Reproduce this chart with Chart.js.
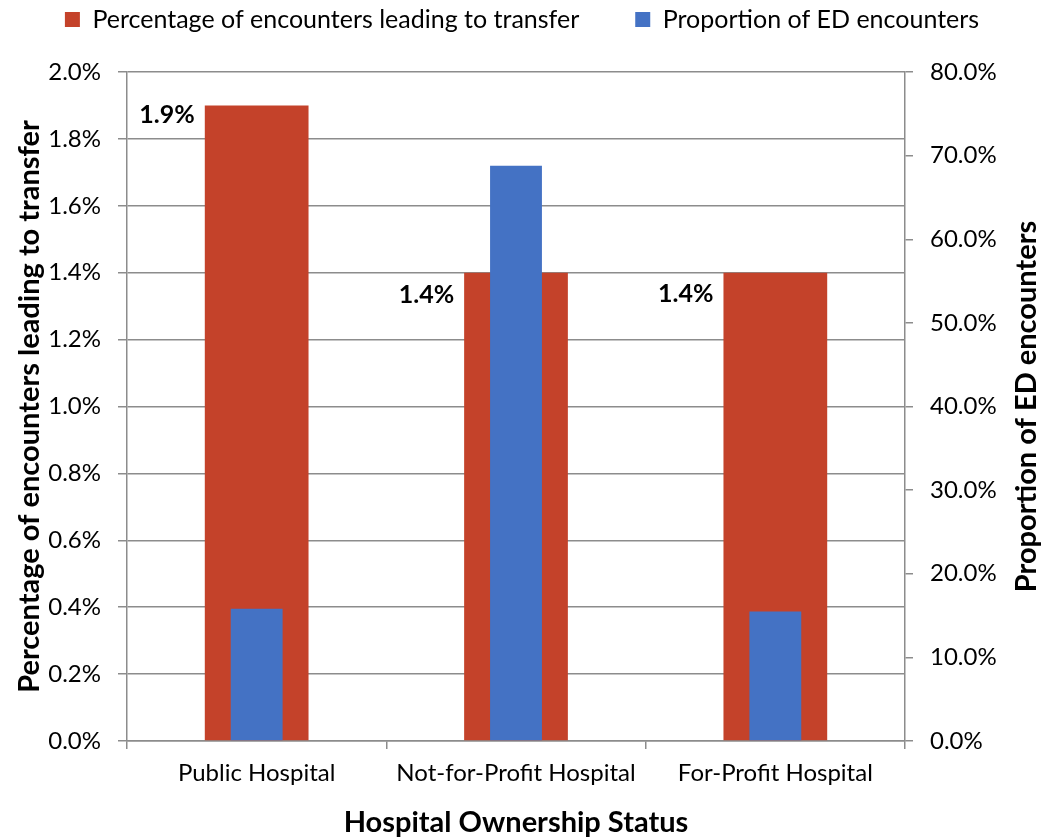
<!DOCTYPE html>
<html>
<head>
<meta charset="utf-8">
<script src="https://cdn.jsdelivr.net/npm/chart.js@4"></script>
<style>
  html, body { margin: 0; padding: 0; background: #fff; }
  #wrap { width: 1044px; height: 840px; }
</style>
</head>
<body>
<div id="wrap"><canvas id="chart" width="1044" height="840"></canvas></div>
<script>
// data
const categories = ["Public Hospital", "Not-for-Profit Hospital", "For-Profit Hospital"];
const transferPct = [1.9, 1.4, 1.4];       // % of encounters leading to transfer (left axis)
const edShare = [15.8, 68.8, 15.5];         // proportion of ED encounters, % (right axis)
const transferLabels = ["1.9%", "1.4%", "1.4%"];

// label placement below bar top (px)
const labelDrop = [9, 22, 21];

const FONT = "Lato, 'Open Sans', sans-serif";
const GRID = "#8c8c8c";
const LEGEND_GAP = 56;

// legend height fixed, value labels next to the red bars, right axis title
const extras = {
  id: "extras",
  beforeInit(chart) {
    const legend = chart.legend;
    const fit = legend.fit;
    legend.fit = function () {
      fit.call(this);
      this.height = 72;
    };
    const draw = legend.draw;
    legend.draw = function () {
      const top = this.top;
      this.top = top - LEGEND_GAP + 7;
      draw.call(this);
      this.top = top;
    };
  },
  afterDatasetsDraw(chart) {
    const ctx = chart.ctx;
    const meta = chart.getDatasetMeta(0);
    ctx.save();
    ctx.font = "bold 25px " + FONT;
    ctx.fillStyle = "#000";
    ctx.textAlign = "right";
    ctx.textBaseline = "middle";
    meta.data.forEach((bar, i) => {
      ctx.fillText(transferLabels[i], bar.x - bar.width / 2 - 10, bar.y + labelDrop[i]);
    });
    ctx.restore();
  },
  afterDraw(chart) {
    const ctx = chart.ctx;
    const area = chart.chartArea;
    ctx.save();
    ctx.translate(1027, (area.top + area.bottom) / 2);
    ctx.rotate(-Math.PI / 2);
    ctx.font = "bold 29px " + FONT;
    ctx.fillStyle = "#000";
    ctx.textAlign = "center";
    ctx.textBaseline = "middle";
    ctx.fillText("Proportion of ED encounters", 0, 0);
    ctx.restore();
  }
};

new Chart(document.getElementById("chart"), {
  type: "bar",
  data: {
    labels: categories,
    datasets: [
      {
        label: "Percentage of encounters leading to transfer",
        data: transferPct,
        backgroundColor: "#c4422a",
        borderWidth: 0,
        yAxisID: "y",
        grouped: false,
        order: 2,
        barPercentage: 0.4,
        categoryPercentage: 1
      },
      {
        label: "Proportion of ED encounters",
        data: edShare,
        backgroundColor: "#4472c4",
        borderWidth: 0,
        yAxisID: "y1",
        grouped: false,
        order: 1,
        barPercentage: 0.2,
        categoryPercentage: 1
      }
    ]
  },
  options: {
    responsive: false,
    animation: false,
    devicePixelRatio: 1,
    layout: { padding: 0 },
    plugins: {
      tooltip: { enabled: false },
      legend: {
        position: "top",
        labels: {
          font: { family: FONT, size: 25 },
          color: "#000",
          boxWidth: 15,
          boxHeight: 15,
          padding: LEGEND_GAP,
          sort: (a, b) => a.datasetIndex - b.datasetIndex
        }
      }
    },
    scales: {
      x: {
        afterFit: s => { s.height = 99; },
        grid: { offset: true, drawOnChartArea: false, drawTicks: true, tickLength: 8, color: GRID, lineWidth: 1.5 },
        border: { color: GRID, width: 1.5 },
        ticks: { font: { family: FONT, size: 24 }, color: "#000", padding: 10, maxRotation: 0 },
        title: {
          display: true,
          text: "Hospital Ownership Status",
          font: { family: FONT, size: 29, weight: "bold" },
          color: "#000",
          padding: { top: 3, bottom: 0 }
        }
      },
      y: {
        position: "left",
        min: 0,
        max: 2,
        afterFit: s => { s.width = 127; },
        grid: { drawOnChartArea: true, drawTicks: true, tickLength: 9, color: GRID, lineWidth: 1.5 },
        border: { color: GRID, width: 1.5 },
        ticks: {
          stepSize: 0.2,
          font: { family: FONT, size: 24 },
          color: "#000",
          padding: 17,
          callback: v => v.toFixed(1) + "%"
        },
        title: {
          display: true,
          text: "Percentage of encounters leading to transfer",
          font: { family: FONT, size: 29, weight: "bold" },
          color: "#000",
          padding: { top: 12, bottom: 0 }
        }
      },
      y1: {
        position: "right",
        min: 0,
        max: 80,
        afterFit: s => { s.width = 139; },
        grid: { drawOnChartArea: false, drawTicks: true, tickLength: 8, color: GRID, lineWidth: 1.5 },
        border: { color: GRID, width: 1.5 },
        ticks: {
          stepSize: 10,
          font: { family: FONT, size: 24 },
          color: "#000",
          padding: 17,
          callback: v => v.toFixed(1) + "%"
        }
      }
    }
  },
  plugins: [extras]
});
</script>
</body>
</html>
